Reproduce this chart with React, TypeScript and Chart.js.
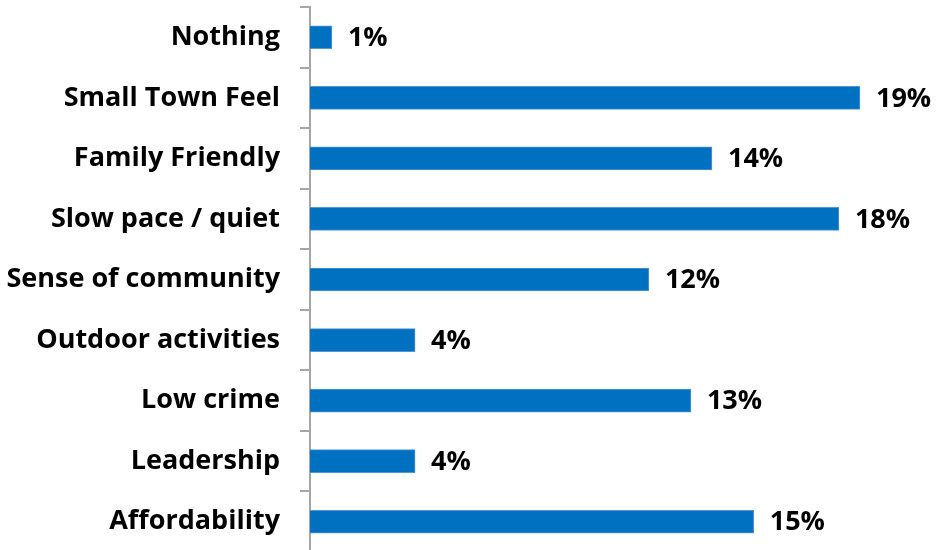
import React, { useEffect, useRef } from "react";
import { Chart, registerables } from "chart.js";

Chart.register(...registerables);

const categories = [
  "Nothing",
  "Small Town Feel",
  "Family Friendly",
  "Slow pace / quiet",
  "Sense of community",
  "Outdoor activities",
  "Low crime",
  "Leadership",
  "Affordability",
];
const values = [0.75, 18.84, 13.77, 18.12, 11.61, 3.6, 13.05, 3.6, 15.2];
const valueLabels = ["1%", "19%", "14%", "18%", "12%", "4%", "13%", "4%", "15%"];

const FONT = "'Open Sans', Lato, sans-serif";

const valueLabelPlugin = {
  id: "valueLabels",
  afterDatasetsDraw(chart: any) {
    const ctx = chart.ctx;
    const meta = chart.getDatasetMeta(0);
    ctx.save();
    ctx.font = `bold 27px ${FONT}`;
    ctx.fillStyle = "#000000";
    ctx.textAlign = "left";
    ctx.textBaseline = "middle";
    meta.data.forEach((bar: any, i: number) => {
      ctx.fillText(valueLabels[i], bar.x + 16, bar.y + 1);
    });
    ctx.restore();
  },
};

export default function App() {
  const ref = useRef<HTMLCanvasElement>(null);
  useEffect(() => {
    if (!ref.current) return;
    const chart = new Chart(ref.current, {
      type: "bar",
      data: {
        labels: categories,
        datasets: [
          {
            data: values,
            backgroundColor: "#0070C0",
            borderColor: "#4F97D6",
            borderWidth: 1,
            barThickness: 23,
          },
        ],
      },
      options: {
        indexAxis: "y",
        animation: false,
        responsive: false,
        maintainAspectRatio: false,
        layout: { padding: { top: 7, right: 13, bottom: 0, left: 0 } },
        plugins: {
          legend: { display: false },
          tooltip: { enabled: false },
        },
        scales: {
          x: {
            display: false,
            min: 0,
            max: 21,
          },
          y: {
            afterFit: (axis: any) => {
              axis.width = 310;
              axis.paddingTop = 0;
              axis.paddingBottom = 0;
            },
            border: { display: true, color: "#A6A6A6", width: 2 },
            grid: {
              display: true,
              drawOnChartArea: false,
              drawTicks: true,
              tickLength: 10,
              color: "#A6A6A6",
              lineWidth: 2,
              offset: true,
            },
            ticks: {
              padding: 20,
              color: "#000000",
              font: { family: FONT, size: 27, weight: "bold" },
            },
          },
        },
      },
      plugins: [valueLabelPlugin],
    });
    return () => chart.destroy();
  }, []);
  return (
    <div style={{ position: "fixed", left: 0, top: 0, width: 936, height: 552 }}>
      <canvas ref={ref} width={936} height={552} />
    </div>
  );
}
